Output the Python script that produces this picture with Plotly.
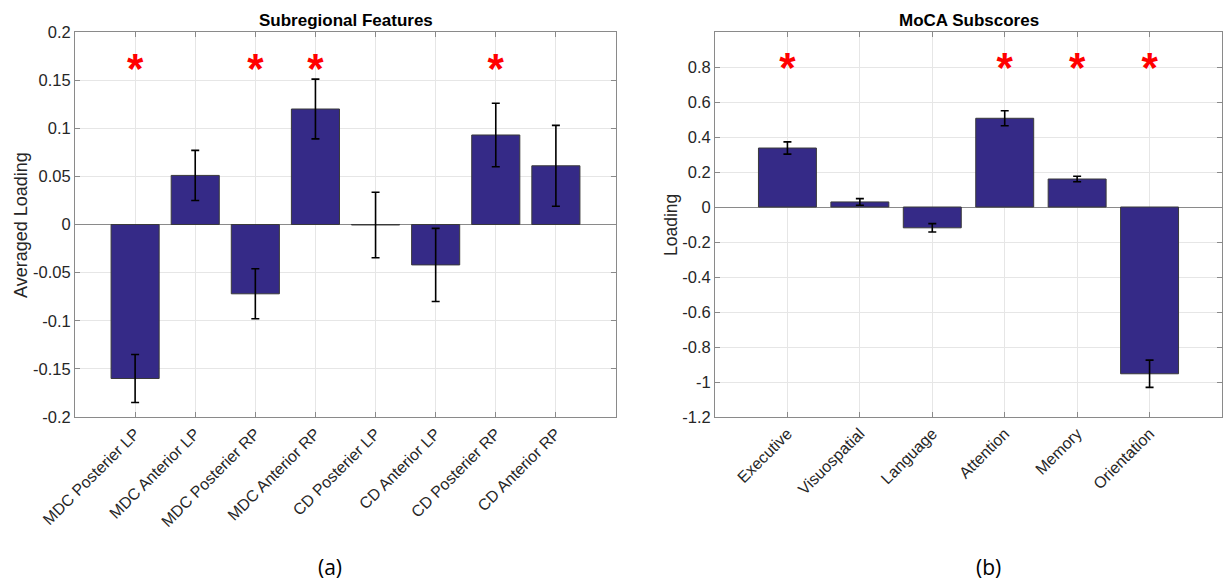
import plotly.graph_objects as go

# ---------------- data ----------------
left_cats = ["MDC Posterier LP", "MDC Anterior LP", "MDC Posterier RP", "MDC Anterior RP",
             "CD Posterier LP", "CD Anterior LP", "CD Posterier RP", "CD Anterior RP"]
left_vals = [-0.160, 0.051, -0.072, 0.120, -0.0005, -0.042, 0.093, 0.061]
left_err = [0.025, 0.026, 0.026, 0.031, 0.034, 0.038, 0.033, 0.042]
left_sig_cats = ["MDC Posterier LP", "MDC Posterier RP", "MDC Anterior RP", "CD Posterier RP"]
left_sig_level = [0.158, 0.158, 0.158, 0.158]
left_tickvals = [0.2, 0.15, 0.1, 0.05, 0, -0.05, -0.1, -0.15, -0.2]
left_ticktext = ["0.2", "0.15", "0.1", "0.05", "0", "-0.05", "-0.1", "-0.15", "-0.2"]

right_cats = ["Executive", "Visuospatial", "Language", "Attention", "Memory", "Orientation"]
right_vals = [0.337, 0.029, -0.119, 0.507, 0.160, -0.953]
right_err = [0.035, 0.019, 0.024, 0.043, 0.016, 0.078]
right_sig_cats = ["Executive", "Attention", "Memory", "Orientation"]
right_sig_level = [0.775, 0.775, 0.775, 0.775]
right_tickvals = [0.8, 0.6, 0.4, 0.2, 0, -0.2, -0.4, -0.6, -0.8, -1, -1.2]
right_ticktext = ["0.8", "0.6", "0.4", "0.2", "0", "-0.2", "-0.4", "-0.6", "-0.8", "-1", "-1.2"]

# ---------------- style ----------------
W, H = 1225, 581
BAR = "#352A87"
FONT = "Liberation Sans, Arial, sans-serif"
AX = "#8a8a8a"
GRID = "#e6e6e6"
TXT = "#262626"

fig = go.Figure()

def add_panel(cats, vals, errs, sig_cats, sig_y, xa, ya):
    fig.add_trace(go.Bar(
        x=cats, y=vals, xaxis=xa, yaxis=ya,
        marker=dict(color=BAR, line=dict(color="#3a3a3a", width=1)),
        error_y=dict(type="data", array=errs, visible=True, color="black",
                     thickness=1.6, width=4),
        showlegend=False, hoverinfo="skip"))
    fig.add_trace(go.Scatter(
        x=sig_cats, y=sig_y, xaxis=xa, yaxis=ya, mode="text",
        text=["<b>*</b>"] * len(sig_cats), textposition="middle center",
        textfont=dict(color="#ff0000", size=42, family=FONT),
        showlegend=False, hoverinfo="skip"))

add_panel(left_cats, left_vals, left_err, left_sig_cats, left_sig_level, "x", "y")
add_panel(right_cats, right_vals, right_err, right_sig_cats, right_sig_level, "x2", "y2")

ytop = 1 - 32 / H
ybot = 1 - 417 / H

common_x = dict(type="category", showgrid=True, gridcolor=GRID, gridwidth=1,
                showline=True, linecolor=AX, linewidth=1, mirror="ticks",
                ticks="inside", ticklen=5, tickcolor=AX, tickangle=-45,
                tickfont=dict(family=FONT, size=16, color=TXT), automargin=False,
                zeroline=False)
common_y = dict(showgrid=True, gridcolor=GRID, gridwidth=1,
                showline=True, linecolor=AX, linewidth=1, mirror="ticks",
                ticks="inside", ticklen=5, tickcolor=AX,
                tickfont=dict(family=FONT, size=16.5, color=TXT), automargin=False,
                zeroline=True, zerolinecolor="#8a8a8a", zerolinewidth=1)

fig.update_layout(
    width=W, height=H, margin=dict(l=0, r=0, t=0, b=0),
    paper_bgcolor="white", plot_bgcolor="white",
    bargap=0.2, template="none",
    xaxis=dict(common_x, domain=[75 / W, 616 / W], range=[-1, 8], anchor="y"),
    yaxis=dict(common_y, domain=[ybot, ytop], range=[-0.2, 0.2],
               tickvals=left_tickvals, ticktext=left_ticktext, anchor="x"),
    xaxis2=dict(common_x, domain=[715 / W, 1222 / W], range=[-1, 6], anchor="y2"),
    yaxis2=dict(common_y, domain=[ybot, ytop], range=[-1.2, 1.0],
                tickvals=right_tickvals, ticktext=right_ticktext, anchor="x2"),
)

def ann(text, x, y, size, bold=False, angle=0, family=FONT, color="black"):
    fig.add_annotation(text=f"<b>{text}</b>" if bold else text,
                       x=x / W, y=1 - y / H, xref="paper", yref="paper",
                       showarrow=False, textangle=angle,
                       font=dict(family=family, size=size, color=color),
                       xanchor="center", yanchor="middle")

ann("Subregional Features", 346, 20, 17, bold=True)
ann("MoCA Subscores", 969, 20, 17, bold=True)
ann("Averaged Loading", 21, 225, 18, angle=-90, color=TXT)
ann("Loading", 671, 225, 17.5, angle=-90, color=TXT)
ann("(a)", 330, 567, 21, family="Open Sans, sans-serif")
ann("(b)", 988, 567, 21, family="Open Sans, sans-serif")

fig.write_html("out.html")
